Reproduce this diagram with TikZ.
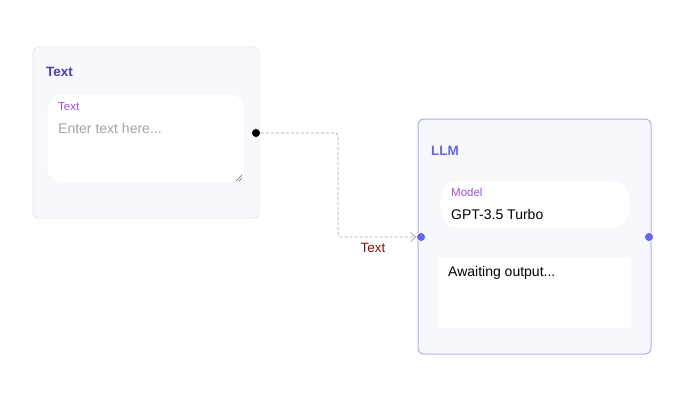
\documentclass[tikz,border=0pt]{standalone}
\usepackage{fontspec}
\setmainfont{Liberation Sans}
\usetikzlibrary{arrows.meta}
\definecolor{panelbg}{HTML}{F7F8FC}
\definecolor{panelline}{HTML}{E6E7EE}
\definecolor{llmline}{HTML}{AEAEF2}
\definecolor{titleA}{HTML}{4A3DB5}
\definecolor{titleB}{HTML}{6466E0}
\definecolor{labelpurple}{HTML}{9A4FD6}
\definecolor{placeholder}{HTML}{A3A3AB}
\definecolor{handleblue}{HTML}{6366F1}
\definecolor{edgegray}{HTML}{A8A8A8}
\definecolor{edgelabel}{HTML}{8B1010}
\tikzset{
  panel/.style={draw=panelline, fill=panelbg, rounded corners=5pt, line width=0.8pt},
  llmpanel/.style={draw=llmline, fill=panelbg, rounded corners=6pt, line width=1pt},
  whitebox/.style={fill=white, draw=black!4, line width=0.6pt},
  ttl/.style={anchor=west, font=\fontsize{13.5}{16}\selectfont\bfseries, inner sep=0pt},
  small/.style={anchor=west, font=\fontsize{11.5}{13}\selectfont, text=labelpurple, inner sep=0pt},
  body/.style={anchor=west, font=\fontsize{14}{16}\selectfont, inner sep=0pt},
  handle/.style={circle, inner sep=0pt, minimum size=9pt},
  edge/.style={draw=edgegray, dashed, line width=0.8pt, dash pattern=on 3pt off 2pt},
}
\begin{document}
\begin{tikzpicture}[x=1pt,y=-1pt]
\useasboundingbox (0,0) rectangle (687,407);
% Text node
\draw[panel] (33,47) rectangle (259,218);
\node[ttl, text=titleA] (ttitle) at (46,72) {Text};
\draw[whitebox, rounded corners=15pt] (47,94) rectangle (245,183);
\node[small] (tlabel) at (58,106.5) {Text};
\node[body, text=placeholder] (tph) at (58,128) {Enter text here...};
\draw[black!60, line width=0.6pt] (236,181) -- (242,175) (239,181) -- (242,178);
\node[handle, fill=black, draw=white, line width=0.6pt] (src) at (256,133) {};
% LLM node
\draw[llmpanel] (418,119) rectangle (651,354);
\node[ttl, text=titleB] (ltitle) at (431,151) {LLM};
\draw[whitebox, rounded corners=18pt] (440,180) rectangle (630,229);
\node[small] (mlabel) at (451,192) {Model};
\node[body] (model) at (451,214) {GPT-3.5 Turbo};
\fill[white] (439,257) rectangle (631,328);
\node[body] (out) at (448,273) {Awaiting output...};
\node[handle, fill=handleblue, draw=white, line width=0.6pt] (tgt) at (421,237) {};
\node[handle, fill=handleblue, draw=white, line width=0.6pt] (outh) at (649,237) {};
% Edge
\coordinate (c1) at (338,133);
\coordinate (c2) at (338,237);
\draw[edge, -{Straight Barb[length=5pt,width=9pt]}, rounded corners=3pt] (src.east) -- (c1) -- (c2) -- (tgt.west);
\node[font=\fontsize{13.5}{15}\selectfont, text=edgelabel, inner sep=0pt] (elabel) at (373,247.5) {Text};
\end{tikzpicture}
\end{document}
